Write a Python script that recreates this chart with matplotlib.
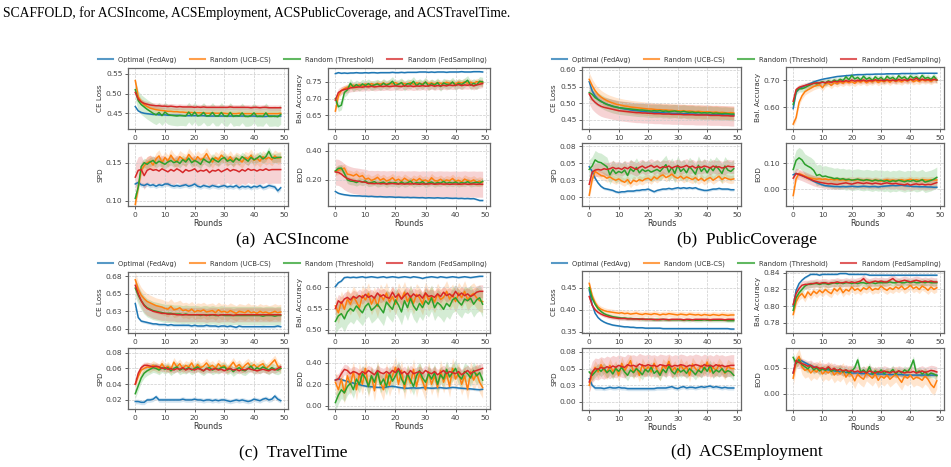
import numpy as np
import matplotlib
matplotlib.use("Agg")
import matplotlib.pyplot as plt

methods = ["Optimal (FedAvg)", "Random (UCB-CS)", "Random (Threshold)", "Random (FedSampling)"]
colors = ["tab:blue", "tab:orange", "tab:green", "tab:red"]
rounds = np.arange(50)

# ---------------- (a) ACSIncome ----------------
income_ce = [
    [0.467,0.456,0.452,0.450,0.449,0.448,0.447,0.447,0.446,0.446,0.446,0.445,0.445,0.445,0.445,0.445,0.444,0.444,0.444,0.444,
     0.444,0.444,0.444,0.444,0.443,0.443,0.443,0.443,0.443,0.443,0.443,0.443,0.443,0.443,0.443,0.443,0.443,0.443,0.442,0.443,
     0.443,0.442,0.442,0.442,0.442,0.443,0.443,0.442,0.443,0.443],
    [0.533,0.492,0.479,0.472,0.467,0.463,0.461,0.459,0.458,0.457,0.456,0.455,0.455,0.454,0.454,0.453,0.453,0.452,0.452,0.452,
     0.451,0.451,0.451,0.451,0.450,0.450,0.451,0.450,0.450,0.450,0.450,0.449,0.450,0.449,0.449,0.450,0.449,0.449,0.449,0.449,
     0.449,0.449,0.449,0.449,0.449,0.449,0.449,0.449,0.449,0.450],
    [0.510,0.482,0.472,0.466,0.460,0.455,0.450,0.446,0.452,0.444,0.453,0.447,0.445,0.444,0.443,0.444,0.444,0.443,0.453,0.444,
     0.453,0.443,0.445,0.452,0.443,0.444,0.452,0.443,0.443,0.452,0.443,0.442,0.452,0.442,0.444,0.443,0.451,0.442,0.442,0.444,
     0.451,0.442,0.443,0.442,0.451,0.442,0.442,0.443,0.441,0.447],
    [0.503,0.486,0.479,0.475,0.473,0.471,0.470,0.469,0.469,0.468,0.468,0.467,0.468,0.467,0.466,0.467,0.466,0.466,0.466,0.466,
     0.465,0.466,0.465,0.466,0.465,0.465,0.465,0.465,0.465,0.465,0.465,0.465,0.466,0.465,0.465,0.465,0.465,0.465,0.465,0.464,
     0.465,0.465,0.464,0.465,0.465,0.464,0.464,0.464,0.464,0.464],
]
income_ce_band = [0.002, 0.008, 0.025, 0.007]

income_acc = [
    [0.775,0.778,0.776,0.777,0.776,0.777,0.777,0.778,0.777,0.777,0.778,0.777,0.778,0.778,0.777,0.778,0.778,0.778,0.778,0.779,
     0.778,0.778,0.779,0.778,0.779,0.779,0.779,0.779,0.780,0.780,0.780,0.779,0.780,0.779,0.780,0.780,0.780,0.779,0.780,0.780,
     0.780,0.780,0.781,0.780,0.780,0.780,0.781,0.781,0.781,0.780],
    [0.662,0.708,0.724,0.730,0.734,0.737,0.740,0.736,0.742,0.738,0.744,0.740,0.745,0.741,0.746,0.743,0.747,0.742,0.746,0.744,
     0.748,0.743,0.747,0.745,0.744,0.748,0.743,0.747,0.746,0.744,0.749,0.745,0.747,0.744,0.748,0.746,0.745,0.749,0.746,0.748,
     0.745,0.749,0.747,0.750,0.746,0.749,0.745,0.751,0.748,0.748],
    [0.700,0.675,0.680,0.718,0.726,0.746,0.734,0.742,0.736,0.744,0.739,0.745,0.738,0.741,0.744,0.738,0.746,0.740,0.744,0.752,
     0.739,0.743,0.748,0.737,0.745,0.743,0.752,0.739,0.746,0.741,0.750,0.738,0.745,0.740,0.748,0.736,0.747,0.743,0.742,0.750,
     0.739,0.746,0.742,0.748,0.755,0.740,0.746,0.741,0.752,0.750],
    [0.695,0.718,0.724,0.727,0.729,0.732,0.733,0.734,0.735,0.734,0.736,0.735,0.737,0.735,0.736,0.737,0.736,0.738,0.736,0.737,
     0.738,0.737,0.736,0.739,0.737,0.738,0.736,0.738,0.737,0.739,0.737,0.738,0.740,0.737,0.739,0.738,0.740,0.738,0.741,0.739,
     0.740,0.742,0.739,0.741,0.740,0.742,0.738,0.741,0.743,0.745],
]
income_acc_band = [0.002, 0.010, 0.014, 0.012]

income_spd = [
    [0.122,0.124,0.121,0.120,0.122,0.120,0.121,0.119,0.121,0.120,0.122,0.122,0.120,0.119,0.120,0.119,0.120,0.121,0.119,0.120,
     0.122,0.119,0.118,0.120,0.119,0.118,0.120,0.119,0.118,0.119,0.120,0.118,0.119,0.118,0.120,0.117,0.119,0.118,0.119,0.117,
     0.119,0.118,0.120,0.117,0.118,0.120,0.119,0.118,0.113,0.117],
    [0.095,0.118,0.140,0.146,0.150,0.152,0.147,0.155,0.159,0.150,0.157,0.152,0.160,0.154,0.151,0.158,0.155,0.153,0.161,0.156,
     0.152,0.158,0.154,0.156,0.162,0.155,0.151,0.157,0.154,0.160,0.156,0.153,0.158,0.152,0.156,0.154,0.151,0.157,0.155,0.160,
     0.153,0.156,0.152,0.158,0.155,0.157,0.154,0.159,0.156,0.157],
    [0.103,0.118,0.145,0.150,0.148,0.151,0.153,0.149,0.152,0.150,0.148,0.151,0.153,0.150,0.152,0.149,0.154,0.151,0.156,0.150,
     0.153,0.151,0.148,0.155,0.152,0.150,0.156,0.153,0.151,0.155,0.157,0.152,0.154,0.151,0.156,0.153,0.158,0.155,0.152,0.157,
     0.154,0.156,0.159,0.155,0.158,0.165,0.157,0.156,0.157,0.157],
    [0.131,0.140,0.141,0.133,0.140,0.142,0.140,0.141,0.139,0.142,0.140,0.138,0.141,0.139,0.142,0.140,0.137,0.141,0.139,0.140,
     0.142,0.138,0.140,0.139,0.141,0.137,0.140,0.139,0.141,0.138,0.140,0.142,0.139,0.141,0.140,0.138,0.141,0.139,0.142,0.140,
     0.141,0.139,0.141,0.140,0.142,0.140,0.141,0.141,0.141,0.141],
]
income_spd_band = [0.003, 0.008, 0.006, 0.018]

income_eod = [
    [0.120,0.108,0.102,0.098,0.095,0.092,0.091,0.090,0.090,0.088,0.088,0.086,0.087,0.085,0.084,0.085,0.083,0.082,0.083,0.082,
     0.080,0.081,0.080,0.079,0.080,0.078,0.079,0.078,0.077,0.078,0.075,0.077,0.076,0.075,0.077,0.075,0.074,0.076,0.074,0.073,
     0.074,0.072,0.073,0.071,0.072,0.070,0.071,0.065,0.058,0.058],
    [0.260,0.268,0.272,0.282,0.240,0.236,0.228,0.240,0.222,0.230,0.205,0.212,0.196,0.205,0.218,0.198,0.210,0.193,0.200,0.215,
     0.195,0.205,0.190,0.212,0.198,0.186,0.205,0.194,0.210,0.192,0.200,0.188,0.215,0.196,0.192,0.205,0.188,0.200,0.194,0.210,
     0.190,0.198,0.186,0.206,0.195,0.190,0.200,0.185,0.192,0.185],
    [0.262,0.280,0.282,0.245,0.200,0.192,0.190,0.182,0.192,0.185,0.193,0.178,0.182,0.188,0.175,0.180,0.185,0.172,0.183,0.178,
     0.182,0.172,0.186,0.175,0.180,0.192,0.172,0.182,0.178,0.188,0.172,0.180,0.186,0.174,0.182,0.178,0.190,0.176,0.183,0.178,
     0.186,0.175,0.182,0.178,0.188,0.176,0.180,0.184,0.178,0.190],
    [0.255,0.252,0.240,0.222,0.210,0.202,0.196,0.193,0.190,0.186,0.184,0.175,0.176,0.174,0.176,0.173,0.175,0.172,0.174,0.175,
     0.173,0.172,0.174,0.171,0.173,0.172,0.174,0.172,0.170,0.173,0.171,0.172,0.174,0.170,0.172,0.173,0.171,0.172,0.170,0.171,
     0.172,0.170,0.171,0.173,0.170,0.171,0.172,0.170,0.171,0.170],
]
income_eod_band = [0.006, 0.03, 0.025, 0.09]

# ---------------- (b) PublicCoverage ----------------
coverage_ce = [
    [0.565,0.537,0.522,0.512,0.506,0.501,0.497,0.494,0.491,0.489,0.487,0.485,0.483,0.482,0.480,0.479,0.478,0.477,0.476,0.475,
     0.474,0.474,0.473,0.473,0.472,0.472,0.471,0.471,0.470,0.470,0.470,0.469,0.469,0.469,0.468,0.468,0.468,0.467,0.467,0.467,
     0.467,0.466,0.466,0.466,0.466,0.466,0.465,0.465,0.465,0.465],
    [0.572,0.553,0.538,0.527,0.519,0.513,0.508,0.504,0.501,0.498,0.496,0.494,0.492,0.491,0.489,0.488,0.487,0.486,0.485,0.484,
     0.483,0.483,0.482,0.481,0.481,0.480,0.480,0.479,0.479,0.478,0.478,0.477,0.478,0.476,0.477,0.476,0.475,0.476,0.475,0.474,
     0.475,0.474,0.473,0.474,0.472,0.473,0.472,0.471,0.472,0.471],
    [0.532,0.527,0.517,0.511,0.506,0.501,0.497,0.494,0.491,0.489,0.487,0.486,0.485,0.484,0.483,0.482,0.481,0.480,0.480,0.479,
     0.478,0.477,0.478,0.477,0.478,0.476,0.477,0.475,0.476,0.477,0.475,0.474,0.476,0.474,0.473,0.474,0.472,0.473,0.471,0.472,
     0.471,0.472,0.470,0.471,0.470,0.469,0.470,0.469,0.468,0.468],
    [0.528,0.512,0.503,0.496,0.491,0.488,0.486,0.484,0.482,0.480,0.478,0.477,0.476,0.475,0.474,0.473,0.472,0.472,0.471,0.471,
     0.470,0.470,0.469,0.469,0.469,0.468,0.468,0.468,0.467,0.467,0.467,0.467,0.466,0.466,0.466,0.466,0.465,0.465,0.465,0.465,
     0.465,0.464,0.464,0.464,0.464,0.463,0.463,0.463,0.462,0.462],
]
coverage_ce_band = [0.004, 0.02, 0.02, 0.03]

coverage_acc = [
    [0.595,0.655,0.668,0.674,0.679,0.684,0.688,0.693,0.697,0.700,0.703,0.705,0.707,0.709,0.711,0.713,0.714,0.715,0.716,0.717,
     0.718,0.719,0.720,0.720,0.720,0.721,0.721,0.721,0.722,0.722,0.722,0.722,0.723,0.723,0.723,0.723,0.723,0.724,0.724,0.724,
     0.724,0.724,0.724,0.725,0.725,0.725,0.725,0.725,0.725,0.725],
    [0.538,0.562,0.618,0.642,0.657,0.664,0.670,0.676,0.680,0.683,0.672,0.686,0.689,0.680,0.691,0.686,0.693,0.688,0.695,0.690,
     0.694,0.688,0.696,0.692,0.698,0.690,0.696,0.693,0.699,0.691,0.697,0.694,0.699,0.692,0.700,0.695,0.698,0.693,0.700,0.696,
     0.702,0.694,0.699,0.695,0.701,0.697,0.700,0.695,0.701,0.700],
    [0.610,0.658,0.668,0.668,0.672,0.678,0.683,0.689,0.686,0.690,0.694,0.689,0.697,0.692,0.700,0.695,0.703,0.698,0.712,0.701,
     0.717,0.704,0.710,0.700,0.714,0.703,0.709,0.698,0.712,0.703,0.710,0.698,0.714,0.705,0.710,0.700,0.716,0.706,0.712,0.701,
     0.715,0.707,0.712,0.703,0.717,0.706,0.710,0.702,0.714,0.700],
    [0.622,0.665,0.673,0.677,0.680,0.683,0.685,0.688,0.690,0.689,0.692,0.690,0.694,0.691,0.696,0.693,0.697,0.694,0.698,0.695,
     0.700,0.696,0.699,0.697,0.700,0.696,0.699,0.697,0.701,0.698,0.700,0.697,0.701,0.698,0.700,0.697,0.702,0.699,0.701,0.698,
     0.703,0.700,0.707,0.699,0.703,0.700,0.702,0.699,0.703,0.700],
]
coverage_acc_band = [0.002, 0.012, 0.012, 0.01]

coverage_spd = [
    [0.045,0.038,0.028,0.021,0.016,0.013,0.012,0.011,0.010,0.008,0.007,0.008,0.008,0.009,0.009,0.009,0.010,0.010,0.011,0.011,
     0.012,0.010,0.008,0.010,0.011,0.012,0.012,0.013,0.012,0.013,0.014,0.013,0.014,0.013,0.014,0.013,0.014,0.012,0.011,0.010,
     0.010,0.011,0.012,0.012,0.013,0.012,0.012,0.012,0.011,0.011],
    [0.003,0.026,0.038,0.035,0.032,0.031,0.028,0.030,0.027,0.025,0.027,0.024,0.022,0.026,0.020,0.025,0.023,0.026,0.024,0.027,
     0.028,0.025,0.030,0.027,0.031,0.033,0.029,0.031,0.034,0.030,0.028,0.031,0.027,0.030,0.028,0.026,0.029,0.025,0.028,0.024,
     0.027,0.029,0.025,0.028,0.031,0.026,0.029,0.027,0.026,0.027],
    [0.041,0.046,0.055,0.052,0.051,0.048,0.045,0.033,0.041,0.035,0.038,0.036,0.040,0.032,0.042,0.038,0.044,0.036,0.041,0.038,
     0.040,0.037,0.039,0.041,0.038,0.043,0.048,0.037,0.044,0.035,0.047,0.038,0.042,0.036,0.045,0.040,0.034,0.047,0.038,0.043,
     0.036,0.044,0.039,0.046,0.041,0.035,0.046,0.040,0.038,0.042],
    [0.019,0.037,0.040,0.041,0.040,0.042,0.041,0.042,0.044,0.042,0.043,0.041,0.044,0.042,0.045,0.043,0.041,0.044,0.046,0.043,
     0.045,0.047,0.044,0.046,0.043,0.045,0.044,0.046,0.043,0.045,0.046,0.044,0.045,0.047,0.044,0.046,0.043,0.045,0.044,0.046,
     0.045,0.043,0.046,0.044,0.045,0.043,0.044,0.046,0.045,0.045],
]
coverage_spd_band = [0.002, 0.006, 0.014, 0.01]

coverage_eod = [
    [0.055,0.060,0.056,0.052,0.047,0.042,0.036,0.030,0.025,0.020,0.016,0.013,0.012,0.011,0.010,0.010,0.009,0.010,0.009,0.010,
     0.011,0.010,0.009,0.010,0.011,0.010,0.009,0.010,0.010,0.008,0.010,0.011,0.012,0.013,0.014,0.013,0.014,0.015,0.013,0.012,
     0.011,0.010,0.010,0.009,0.009,0.009,0.008,0.008,0.007,0.007],
    [-0.025,0.040,0.060,0.055,0.050,0.045,0.042,0.040,0.038,0.040,0.037,0.039,0.036,0.038,0.035,0.037,0.034,0.036,0.033,0.035,
     0.036,0.034,0.037,0.035,0.033,0.036,0.034,0.032,0.035,0.033,0.030,0.034,0.036,0.033,0.035,0.032,0.034,0.036,0.033,0.035,
     0.038,0.034,0.036,0.033,0.037,0.035,0.034,0.036,0.035,0.035],
    [0.075,0.110,0.120,0.112,0.095,0.088,0.082,0.072,0.052,0.056,0.048,0.050,0.046,0.044,0.040,0.042,0.038,0.040,0.036,0.038,
     0.034,0.036,0.038,0.035,0.033,0.036,0.034,0.031,0.035,0.032,0.034,0.030,0.033,0.028,0.032,0.030,0.034,0.031,0.028,0.032,
     0.030,0.034,0.029,0.031,0.036,0.027,0.030,0.033,0.038,0.045],
    [0.042,0.060,0.056,0.052,0.047,0.042,0.037,0.032,0.029,0.026,0.024,0.022,0.020,0.021,0.019,0.018,0.020,0.022,0.024,0.021,
     0.019,0.022,0.025,0.023,0.021,0.024,0.022,0.020,0.023,0.021,0.019,0.022,0.024,0.021,0.020,0.022,0.019,0.018,0.016,0.020,
     0.015,0.018,0.020,0.017,0.019,0.016,0.018,0.017,0.021,0.025],
]
coverage_eod_band = [0.004, 0.012, 0.04, 0.02]

# ---------------- (c) TravelTime ----------------
travel_ce = [
    [0.636,0.616,0.611,0.610,0.609,0.608,0.607,0.607,0.606,0.606,0.606,0.605,0.606,0.605,0.605,0.605,0.605,0.605,0.605,0.604,
     0.605,0.604,0.604,0.604,0.605,0.604,0.604,0.604,0.603,0.604,0.604,0.603,0.604,0.603,0.602,0.604,0.603,0.603,0.603,0.603,
     0.603,0.603,0.603,0.603,0.603,0.603,0.603,0.603,0.604,0.603],
    [0.670,0.656,0.648,0.643,0.639,0.637,0.635,0.633,0.632,0.631,0.629,0.628,0.632,0.627,0.628,0.630,0.626,0.627,0.625,0.628,
     0.624,0.626,0.625,0.627,0.624,0.625,0.626,0.623,0.627,0.624,0.625,0.623,0.626,0.624,0.622,0.625,0.624,0.623,0.626,0.623,
     0.624,0.622,0.625,0.623,0.624,0.622,0.623,0.625,0.623,0.624],
    [0.658,0.648,0.640,0.634,0.630,0.628,0.626,0.625,0.624,0.623,0.622,0.622,0.622,0.621,0.621,0.621,0.620,0.621,0.620,0.620,
     0.620,0.620,0.619,0.620,0.620,0.619,0.620,0.619,0.619,0.620,0.619,0.619,0.619,0.619,0.619,0.619,0.619,0.619,0.619,0.619,
     0.619,0.619,0.619,0.618,0.619,0.619,0.619,0.618,0.619,0.619],
    [0.662,0.650,0.640,0.633,0.629,0.627,0.625,0.624,0.623,0.622,0.622,0.621,0.621,0.621,0.620,0.620,0.620,0.620,0.620,0.620,
     0.620,0.620,0.620,0.620,0.619,0.620,0.620,0.620,0.619,0.620,0.620,0.620,0.620,0.619,0.620,0.620,0.620,0.620,0.620,0.620,
     0.620,0.620,0.620,0.620,0.620,0.620,0.620,0.620,0.620,0.620],
]
travel_ce_band = [0.002, 0.011, 0.013, 0.01]

travel_acc = [
    [0.601,0.610,0.614,0.622,0.623,0.622,0.623,0.622,0.623,0.624,0.622,0.623,0.624,0.623,0.622,0.623,0.624,0.622,0.623,0.624,
     0.623,0.622,0.623,0.624,0.623,0.622,0.624,0.623,0.622,0.620,0.622,0.623,0.624,0.623,0.622,0.624,0.623,0.622,0.623,0.624,
     0.623,0.622,0.623,0.624,0.623,0.622,0.623,0.624,0.625,0.625],
    [0.556,0.540,0.566,0.548,0.572,0.560,0.578,0.566,0.552,0.580,0.570,0.585,0.560,0.576,0.555,0.582,0.570,0.586,0.565,0.578,
     0.560,0.585,0.572,0.588,0.566,0.580,0.562,0.583,0.575,0.560,0.587,0.570,0.578,0.565,0.584,0.571,0.576,0.590,0.572,0.582,
     0.566,0.586,0.575,0.590,0.570,0.580,0.585,0.575,0.568,0.566],
    [0.520,0.533,0.538,0.526,0.542,0.550,0.544,0.556,0.548,0.540,0.555,0.562,0.546,0.552,0.560,0.550,0.540,0.565,0.556,0.548,
     0.570,0.558,0.542,0.568,0.552,0.574,0.556,0.546,0.562,0.552,0.568,0.560,0.575,0.552,0.564,0.558,0.548,0.562,0.555,0.570,
     0.575,0.565,0.558,0.572,0.568,0.574,0.560,0.570,0.575,0.560],
    [0.550,0.568,0.562,0.572,0.576,0.570,0.578,0.574,0.580,0.575,0.583,0.576,0.580,0.574,0.586,0.578,0.582,0.576,0.574,0.588,
     0.576,0.583,0.572,0.580,0.586,0.576,0.584,0.578,0.582,0.574,0.586,0.578,0.580,0.576,0.584,0.578,0.588,0.580,0.584,0.578,
     0.590,0.580,0.586,0.580,0.584,0.578,0.582,0.588,0.590,0.590],
]
travel_acc_band = [0.002, 0.025, 0.03, 0.015]

travel_spd = [
    [0.018,0.018,0.017,0.017,0.020,0.020,0.021,0.024,0.020,0.020,0.020,0.020,0.020,0.020,0.020,0.020,0.021,0.020,0.020,0.020,
     0.021,0.020,0.020,0.019,0.020,0.020,0.019,0.020,0.019,0.020,0.020,0.019,0.018,0.019,0.020,0.019,0.020,0.019,0.018,0.019,
     0.021,0.020,0.019,0.021,0.022,0.020,0.021,0.025,0.021,0.019],
    [0.040,0.050,0.058,0.060,0.062,0.061,0.064,0.062,0.060,0.066,0.060,0.063,0.059,0.068,0.062,0.066,0.060,0.064,0.062,0.067,
     0.060,0.065,0.061,0.063,0.067,0.062,0.064,0.060,0.066,0.062,0.064,0.059,0.063,0.068,0.062,0.065,0.060,0.064,0.067,0.062,
     0.065,0.061,0.064,0.066,0.060,0.063,0.067,0.071,0.063,0.060],
    [0.028,0.038,0.048,0.054,0.057,0.059,0.061,0.060,0.058,0.061,0.059,0.061,0.057,0.060,0.062,0.058,0.060,0.059,0.061,0.058,
     0.060,0.062,0.059,0.057,0.060,0.061,0.058,0.060,0.059,0.061,0.062,0.058,0.060,0.056,0.059,0.061,0.058,0.057,0.060,0.063,
     0.058,0.061,0.059,0.062,0.060,0.058,0.061,0.059,0.058,0.060],
    [0.040,0.054,0.061,0.064,0.064,0.063,0.062,0.063,0.062,0.060,0.061,0.059,0.060,0.058,0.060,0.059,0.061,0.058,0.060,0.059,
     0.058,0.060,0.059,0.057,0.060,0.058,0.059,0.060,0.058,0.059,0.057,0.059,0.060,0.058,0.059,0.057,0.059,0.058,0.060,0.059,
     0.058,0.057,0.058,0.059,0.058,0.057,0.059,0.058,0.060,0.062],
]
travel_spd_band = [0.003, 0.006, 0.006, 0.004]

travel_eod = [
    [0.240,0.252,0.245,0.236,0.228,0.220,0.212,0.205,0.198,0.190,0.184,0.180,0.178,0.175,0.172,0.172,0.170,0.175,0.180,0.182,
     0.178,0.172,0.168,0.165,0.164,0.166,0.168,0.165,0.166,0.170,0.168,0.166,0.164,0.165,0.168,0.170,0.166,0.164,0.168,0.172,
     0.170,0.166,0.164,0.162,0.160,0.158,0.155,0.152,0.150,0.155],
    [0.220,0.150,0.250,0.120,0.280,0.200,0.320,0.150,0.300,0.200,0.350,0.180,0.280,0.140,0.320,0.220,0.150,0.300,0.190,0.280,
     0.360,0.200,0.330,0.160,0.290,0.210,0.340,0.180,0.300,0.230,0.150,0.320,0.200,0.280,0.170,0.330,0.220,0.300,0.180,0.350,
     0.250,0.310,0.200,0.280,0.150,0.320,0.240,0.300,0.220,0.170],
    [0.030,0.100,0.150,0.120,0.180,0.210,0.150,0.250,0.200,0.300,0.260,0.180,0.280,0.220,0.320,0.200,0.250,0.180,0.300,0.230,
     0.280,0.340,0.250,0.200,0.300,0.240,0.180,0.280,0.330,0.260,0.220,0.300,0.250,0.310,0.200,0.290,0.250,0.340,0.270,0.310,
     0.350,0.280,0.250,0.320,0.300,0.260,0.330,0.280,0.310,0.240],
    [0.240,0.250,0.300,0.340,0.330,0.300,0.320,0.310,0.290,0.320,0.300,0.330,0.310,0.290,0.330,0.310,0.300,0.320,0.300,0.330,
     0.310,0.350,0.300,0.320,0.290,0.330,0.300,0.310,0.320,0.300,0.330,0.310,0.300,0.320,0.290,0.310,0.330,0.300,0.320,0.310,
     0.300,0.320,0.290,0.310,0.330,0.300,0.320,0.330,0.340,0.350],
]
travel_eod_band = [0.012, 0.1, 0.08, 0.05]

# ---------------- (d) ACSEmployment ----------------
employ_ce = [
    [0.445,0.412,0.392,0.382,0.376,0.372,0.369,0.367,0.365,0.364,0.363,0.362,0.361,0.361,0.360,0.360,0.359,0.359,0.359,0.358,
     0.358,0.358,0.358,0.358,0.358,0.357,0.357,0.357,0.357,0.357,0.357,0.357,0.357,0.357,0.357,0.357,0.357,0.357,0.357,0.357,
     0.357,0.357,0.357,0.357,0.357,0.357,0.357,0.357,0.356,0.356],
    [0.460,0.432,0.416,0.406,0.401,0.398,0.396,0.395,0.394,0.393,0.392,0.393,0.391,0.392,0.390,0.391,0.392,0.390,0.389,0.391,
     0.390,0.389,0.391,0.390,0.388,0.390,0.389,0.391,0.390,0.389,0.388,0.390,0.389,0.388,0.390,0.389,0.388,0.389,0.387,0.389,
     0.388,0.387,0.389,0.388,0.387,0.389,0.388,0.387,0.388,0.388],
    [0.450,0.426,0.412,0.402,0.396,0.391,0.388,0.386,0.384,0.383,0.382,0.381,0.381,0.380,0.380,0.379,0.379,0.379,0.378,0.378,
     0.378,0.378,0.377,0.378,0.377,0.378,0.377,0.377,0.377,0.377,0.377,0.377,0.376,0.377,0.376,0.377,0.376,0.376,0.376,0.377,
     0.376,0.376,0.376,0.376,0.376,0.376,0.376,0.375,0.375,0.375],
    [0.430,0.410,0.400,0.394,0.390,0.387,0.385,0.383,0.382,0.381,0.380,0.380,0.380,0.379,0.379,0.379,0.379,0.378,0.379,0.378,
     0.378,0.378,0.378,0.377,0.378,0.378,0.378,0.377,0.378,0.378,0.378,0.378,0.377,0.378,0.378,0.377,0.378,0.378,0.378,0.378,
     0.378,0.377,0.378,0.378,0.378,0.378,0.377,0.378,0.378,0.378],
]
employ_ce_band = [0.002, 0.007, 0.004, 0.004]

employ_acc = [
    [0.800,0.819,0.827,0.831,0.834,0.836,0.838,0.838,0.838,0.837,0.838,0.838,0.838,0.838,0.838,0.838,0.839,0.839,0.839,0.838,
     0.838,0.838,0.838,0.838,0.838,0.838,0.837,0.837,0.837,0.837,0.837,0.837,0.837,0.837,0.837,0.837,0.837,0.837,0.837,0.837,
     0.837,0.837,0.837,0.837,0.837,0.837,0.837,0.837,0.837,0.837],
    [0.790,0.805,0.812,0.815,0.810,0.817,0.813,0.818,0.815,0.819,0.816,0.820,0.817,0.815,0.821,0.818,0.822,0.816,0.820,0.818,
     0.823,0.819,0.821,0.818,0.822,0.820,0.823,0.819,0.821,0.820,0.824,0.821,0.819,0.822,0.820,0.823,0.821,0.824,0.820,0.822,
     0.825,0.821,0.823,0.820,0.824,0.822,0.819,0.823,0.820,0.822],
    [0.795,0.810,0.816,0.820,0.824,0.826,0.826,0.827,0.827,0.826,0.827,0.827,0.826,0.827,0.828,0.827,0.828,0.827,0.828,0.828,
     0.827,0.828,0.827,0.828,0.828,0.827,0.828,0.828,0.827,0.828,0.828,0.828,0.828,0.829,0.828,0.828,0.829,0.828,0.828,0.829,
     0.828,0.829,0.828,0.828,0.829,0.828,0.829,0.828,0.828,0.828],
    [0.802,0.815,0.821,0.825,0.826,0.826,0.827,0.827,0.828,0.827,0.828,0.828,0.827,0.828,0.828,0.829,0.828,0.828,0.829,0.828,
     0.829,0.828,0.829,0.830,0.833,0.829,0.828,0.829,0.830,0.829,0.830,0.829,0.829,0.831,0.833,0.830,0.829,0.830,0.831,0.830,
     0.829,0.830,0.831,0.830,0.829,0.830,0.829,0.830,0.829,0.829],
]
employ_acc_band = [0.001, 0.005, 0.004, 0.005]

employ_spd = [
    [0.035,0.025,0.021,0.021,0.021,0.020,0.021,0.022,0.021,0.021,0.022,0.021,0.021,0.020,0.020,0.020,0.020,0.020,0.020,0.020,
     0.020,0.020,0.020,0.021,0.021,0.021,0.021,0.022,0.023,0.021,0.020,0.022,0.023,0.021,0.022,0.022,0.021,0.022,0.023,0.022,
     0.023,0.024,0.022,0.023,0.022,0.021,0.022,0.021,0.021,0.021],
    [0.025,0.042,0.052,0.045,0.056,0.048,0.044,0.055,0.046,0.052,0.040,0.058,0.047,0.054,0.062,0.044,0.052,0.040,0.056,0.047,
     0.053,0.045,0.058,0.048,0.042,0.055,0.050,0.061,0.046,0.052,0.044,0.056,0.048,0.053,0.040,0.057,0.050,0.046,0.055,0.048,
     0.060,0.045,0.052,0.047,0.056,0.050,0.043,0.054,0.050,0.050],
    [0.045,0.040,0.045,0.050,0.046,0.051,0.044,0.048,0.042,0.050,0.046,0.052,0.045,0.040,0.048,0.044,0.050,0.046,0.041,0.049,
     0.045,0.052,0.043,0.047,0.040,0.049,0.044,0.054,0.046,0.042,0.050,0.045,0.048,0.043,0.050,0.046,0.041,0.048,0.044,0.052,
     0.046,0.055,0.043,0.048,0.045,0.050,0.044,0.047,0.045,0.040],
    [0.030,0.045,0.050,0.049,0.052,0.050,0.053,0.051,0.054,0.052,0.055,0.053,0.052,0.056,0.054,0.055,0.053,0.057,0.055,0.054,
     0.056,0.054,0.055,0.053,0.056,0.055,0.054,0.056,0.053,0.055,0.054,0.056,0.055,0.053,0.055,0.054,0.056,0.055,0.053,0.056,
     0.054,0.055,0.053,0.056,0.054,0.055,0.053,0.054,0.055,0.055],
]
employ_spd_band = [0.003, 0.01, 0.008, 0.016]

employ_eod = [
    [0.040,0.064,0.066,0.063,0.060,0.057,0.054,0.052,0.050,0.049,0.048,0.047,0.046,0.045,0.044,0.043,0.042,0.042,0.041,0.041,
     0.040,0.040,0.040,0.039,0.039,0.039,0.038,0.038,0.038,0.038,0.038,0.038,0.037,0.037,0.037,0.037,0.037,0.037,0.036,0.036,
     0.036,0.036,0.036,0.036,0.036,0.036,0.036,0.036,0.036,0.036],
    [0.030,0.062,0.072,0.052,0.045,0.048,0.040,0.046,0.042,0.050,0.038,0.044,0.040,0.046,0.036,0.042,0.038,0.045,0.032,0.040,
     0.036,0.025,0.038,0.032,0.028,0.040,0.035,0.030,0.038,0.026,0.034,0.030,0.036,0.028,0.033,0.038,0.030,0.022,0.034,0.030,
     0.036,0.028,0.032,0.030,0.026,0.034,0.028,0.018,0.012,0.025],
    [0.070,0.058,0.065,0.056,0.052,0.048,0.054,0.046,0.050,0.044,0.048,0.045,0.050,0.043,0.047,0.044,0.048,0.042,0.046,0.040,
     0.044,0.050,0.065,0.042,0.046,0.040,0.052,0.038,0.044,0.040,0.046,0.039,0.043,0.041,0.047,0.038,0.044,0.040,0.046,0.042,
     0.050,0.065,0.040,0.044,0.038,0.042,0.036,0.040,0.038,0.035],
    [0.040,0.064,0.060,0.058,0.056,0.053,0.055,0.050,0.052,0.048,0.050,0.047,0.052,0.046,0.049,0.045,0.047,0.044,0.046,0.043,
     0.045,0.042,0.044,0.041,0.043,0.040,0.044,0.042,0.040,0.043,0.041,0.044,0.042,0.040,0.043,0.041,0.044,0.042,0.040,0.042,
     0.041,0.043,0.040,0.042,0.044,0.041,0.043,0.045,0.044,0.042],
]
employ_eod_band = [0.003, 0.015, 0.008, 0.01]

# y ticks shared by the two small SPD axes
ticks_two = [0.0, 0.025, 0.05, 0.075]
labels_two = ["0.00", "0.03", "0.05", "0.08"]

W, H = 951, 467


def ax_px(fig, x0, y0, x1, y1):
    # pixel box (top-left origin) -> figure fraction
    return fig.add_axes([x0 / W, 1 - y1 / H, (x1 - x0) / W, (y1 - y0) / H])


def draw(ax, series, bands, ylabel, yticks, ylabels, ylim, xlabel=False):
    for vals, band, c in zip(series, bands, colors):
        v = np.array(vals)
        ax.fill_between(rounds, v - band, v + band, color=c, alpha=0.2, linewidth=0)
        ax.plot(rounds, v, color=c, linewidth=1.1)
    ax.set_ylim(*ylim)
    ax.set_yticks(yticks)
    ax.set_yticklabels(ylabels)
    ax.set_xticks([0, 10, 20, 30, 40, 50])
    ax.grid(True, linestyle="--", linewidth=0.5, color="#cccccc")
    ax.set_ylabel(ylabel, fontsize=5.2, color="#333333", labelpad=2)
    if xlabel:
        ax.set_xlabel("Rounds", fontsize=5.8, color="#333333", labelpad=1)
    ax.tick_params(labelsize=5.4, length=2.5, width=0.6, colors="#444444", pad=1.5)
    for s in ax.spines.values():
        s.set_color("#666666")
        s.set_linewidth(0.9)


fig = plt.figure(figsize=(W / 100, H / 100), dpi=100)

fig.text(3 / W, 1 - 13 / H, "SCAFFOLD, for ACSIncome, ACSEmployment, ACSPublicCoverage, and ACSTravelTime.",
         family="Liberation Serif", fontsize=9.85, va="center", ha="left")

panels = [
    # (axis columns, axis rows, subplot data, caption, caption x, caption y, legend y) in pixels
    ((128, 288, 328, 490), (68, 129, 143, 206),
     [(income_ce, income_ce_band, "CE Loss", [0.45, 0.50, 0.55], ["0.45", "0.50", "0.55"], (0.41, 0.565)),
      (income_acc, income_acc_band, "Bal. Accuracy", [0.65, 0.70, 0.75], ["0.65", "0.70", "0.75"], (0.608, 0.792)),
      (income_spd, income_spd_band, "SPD", [0.10, 0.15], ["0.10", "0.15"], (0.093, 0.176)),
      (income_eod, income_eod_band, "EOD", [0.20, 0.40], ["0.20", "0.40"], (0.02, 0.455))],
     "(a)  ACSIncome", 293, 240, 60),
    ((582, 741, 786, 944), (67, 129, 143, 206),
     [(coverage_ce, coverage_ce_band, "CE Loss", [0.45, 0.50, 0.55, 0.60], ["0.45", "0.50", "0.55", "0.60"], (0.423, 0.609)),
      (coverage_acc, coverage_acc_band, "Bal. Accuracy", [0.60, 0.70], ["0.60", "0.70"], (0.52, 0.748)),
      (coverage_spd, coverage_spd_band, "SPD", ticks_two, labels_two, (-0.013, 0.080)),
      (coverage_eod, coverage_eod_band, "EOD", [0.0, 0.10], ["0.00", "0.10"], (-0.065, 0.177))],
     "(b)  PublicCoverage", 747, 240, 60),
    ((128, 288, 328, 490), (272, 333, 348, 409),
     [(travel_ce, travel_ce_band, "CE Loss", [0.60, 0.625, 0.65, 0.675], ["0.60", "0.63", "0.65", "0.68"], (0.594, 0.681)),
      (travel_acc, travel_acc_band, "Bal. Accuracy", [0.50, 0.55, 0.60], ["0.50", "0.55", "0.60"], (0.493, 0.635)),
      (travel_spd, travel_spd_band, "SPD", [0.02, 0.04, 0.06, 0.08], ["0.02", "0.04", "0.06", "0.08"], (0.0085, 0.086)),
      (travel_eod, travel_eod_band, "EOD", [0.0, 0.20, 0.40], ["0.00", "0.20", "0.40"], (-0.03, 0.54))],
     "(c)  TravelTime", 293, 452, 264),
    ((582, 741, 786, 944), (271, 333, 348, 410),
     [(employ_ce, employ_ce_band, "CE Loss", [0.35, 0.40, 0.45], ["0.35", "0.40", "0.45"], (0.347, 0.488)),
      (employ_acc, employ_acc_band, "Bal. Accuracy", [0.78, 0.80, 0.82, 0.84], ["0.78", "0.80", "0.82", "0.84"], (0.768, 0.842)),
      (employ_spd, employ_spd_band, "SPD", ticks_two, labels_two, (-0.012, 0.081)),
      (employ_eod, employ_eod_band, "EOD", [0.0, 0.05], ["0.00", "0.05"], (-0.031, 0.088))],
     "(d)  ACSEmployment", 747, 452, 264),
]

for (xs, ys, subs, caption, cx, cy, ly) in panels:
    boxes = [(xs[0], ys[0], xs[1], ys[1]), (xs[2], ys[0], xs[3], ys[1]),
             (xs[0], ys[2], xs[1], ys[3]), (xs[2], ys[2], xs[3], ys[3])]
    for i, (box, sub) in enumerate(zip(boxes, subs)):
        ax = ax_px(fig, *box)
        draw(ax, *sub, xlabel=(i >= 2))
    handles = [plt.Line2D([], [], color=c, linewidth=1.5, alpha=0.75) for c in colors]
    fig.legend(handles, methods, loc="center", ncol=4, frameon=False, fontsize=4.9,
               bbox_to_anchor=(((xs[0] + xs[3]) / 2 - 17) / W, 1 - ly / H),
               handlelength=2.3, columnspacing=1.9, handletextpad=0.75, labelcolor="#333333")
    fig.text(cx / W, 1 - cy / H, caption, family="Liberation Serif", fontsize=12.5, ha="center", va="center")

fig.savefig("out.png", dpi=100)
